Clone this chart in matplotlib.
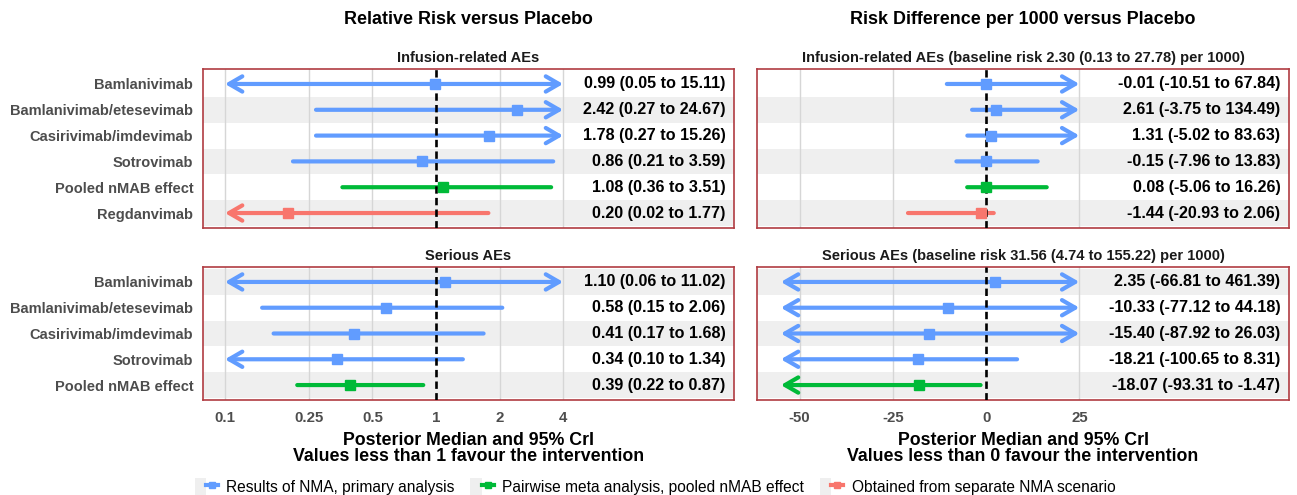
import matplotlib.pyplot as plt
from matplotlib.lines import Line2D
from matplotlib.patches import Rectangle
from matplotlib.legend_handler import HandlerTuple

plt.rcParams['font.family'] = ['Liberation Sans', 'DejaVu Sans']

# treatments per outcome (top to bottom)
treatments_inf = ['Bamlanivimab', 'Bamlanivimab/etesevimab', 'Casirivimab/imdevimab',
                  'Sotrovimab', 'Pooled nMAB effect', 'Regdanvimab']
treatments_ser = ['Bamlanivimab', 'Bamlanivimab/etesevimab', 'Casirivimab/imdevimab',
                  'Sotrovimab', 'Pooled nMAB effect']
source_inf = ['nma', 'nma', 'nma', 'nma', 'pooled', 'scenario']
source_ser = ['nma', 'nma', 'nma', 'nma', 'pooled']

# relative risk, infusion-related AEs
rr_inf_med = [0.99, 2.42, 1.78, 0.86, 1.08, 0.20]
rr_inf_lo = [0.05, 0.27, 0.27, 0.21, 0.36, 0.02]
rr_inf_hi = [15.11, 24.67, 15.26, 3.59, 3.51, 1.77]

# relative risk, serious AEs
rr_ser_med = [1.10, 0.58, 0.41, 0.34, 0.39]
rr_ser_lo = [0.06, 0.15, 0.17, 0.10, 0.22]
rr_ser_hi = [11.02, 2.06, 1.68, 1.34, 0.87]

# risk difference per 1000, infusion-related AEs
rd_inf_med = [-0.01, 2.61, 1.31, -0.15, 0.08, -1.44]
rd_inf_lo = [-10.51, -3.75, -5.02, -7.96, -5.06, -20.93]
rd_inf_hi = [67.84, 134.49, 83.63, 13.83, 16.26, 2.06]

# risk difference per 1000, serious AEs
rd_ser_med = [2.35, -10.33, -15.40, -18.21, -18.07]
rd_ser_lo = [-66.81, -77.12, -87.92, -100.65, -93.31]
rd_ser_hi = [461.39, 44.18, 26.03, 8.31, -1.47]

rr_ticks = [0.1, 0.25, 0.5, 1, 2, 4]
rr_ticklabels = ['0.1', '0.25', '0.5', '1', '2', '4']
rd_ticks = [-50, -25, 0, 25]
rd_ticklabels = ['-50', '-25', '0', '25']

colors = {'nma': '#619CFF', 'pooled': '#00BA38', 'scenario': '#F8766D'}
legend_labels = ['Results of NMA, primary analysis',
                 'Pairwise meta analysis, pooled nMAB effect',
                 'Obtained from separate NMA scenario']

W, H = 1297, 495
fig = plt.figure(figsize=(W / 100, H / 100), dpi=100)


def px_axes(x0, y0, x1, y1):
    return fig.add_axes([x0 / W, 1 - y1 / H, (x1 - x0) / W, (y1 - y0) / H])


def draw_panel(ax, labels, med, lo, hi, source, log, xlim, clip, ref, ticks,
               ticklabels, show_x, show_y, title):
    n = len(labels)
    ys = [n - i for i in range(n)]
    if log:
        ax.set_xscale('log')
    ax.set_xlim(*xlim)
    ax.set_ylim(0.42, n + 0.58)

    # alternating row shading and vertical grid
    for y in ys:
        if y % 2 == 1:
            ax.axhspan(y - 0.5, y + 0.5, color='#efefef', lw=0, zorder=0)
    for t in ticks:
        if t != ref:
            ax.axvline(t, color='#d6d6d6', lw=1.0, zorder=1)
    ax.axvline(ref, color='black', lw=1.9, ls=(0, (2.8, 1.6)), zorder=4)

    for y, m, l, h, s in zip(ys, med, lo, hi, source):
        c = colors[s]
        left_arrow = l <= clip[0]
        right_arrow = h >= clip[1]
        a = max(l, clip[0])
        b = min(h, clip[1])
        style = {(True, True): '<->', (True, False): '<-',
                 (False, True): '->', (False, False): '-'}[(left_arrow, right_arrow)]
        if style != '-':
            style += ', head_length=0.95, head_width=0.55'
        ax.annotate('', xy=(b, y), xytext=(a, y),
                    arrowprops=dict(arrowstyle=style, color=c, lw=3,
                                    shrinkA=0, shrinkB=0, mutation_scale=10),
                    zorder=3)
        ax.plot([m], [y], marker='s', ms=6.5, color=c, zorder=5)
        ax.text(0.984, y, f'{m:.2f} ({l:.2f} to {h:.2f})',
                transform=ax.get_yaxis_transform(), ha='right', va='center',
                fontsize=11.6, fontweight='bold', color='black')

    ax.set_xticks(ticks)
    ax.minorticks_off()
    if show_x:
        ax.set_xticklabels(ticklabels)
    else:
        ax.set_xticklabels([])
    ax.set_yticks(ys)
    if show_y:
        ax.set_yticklabels(labels)
    else:
        ax.set_yticklabels([])
    ax.tick_params(axis='y', length=0, labelsize=10.5, labelcolor='#4d4d4d', pad=7)
    ax.tick_params(axis='x', length=0, labelsize=10.8, labelcolor='#4d4d4d', pad=8)
    for lab in ax.get_xticklabels() + ax.get_yticklabels():
        lab.set_fontweight('bold')
    for sp in ax.spines.values():
        sp.set_color('#b03c42')
        sp.set_linewidth(1.2)
    ax.set_title(title, fontsize=10.5, fontweight='bold', color='#1a1a1a', pad=5)


rr_lim = (0.0787, 25.8)
rr_clip = (0.1, 4)
rd_lim = (-61.4, 81.2)
rd_clip = (-55, 25)

ax1 = px_axes(203, 69, 734, 228)
draw_panel(ax1, treatments_inf, rr_inf_med, rr_inf_lo, rr_inf_hi, source_inf, True,
           rr_lim, rr_clip, 1, rr_ticks, rr_ticklabels, False, True,
           'Infusion-related AEs')
ax2 = px_axes(203, 267, 734, 400)
draw_panel(ax2, treatments_ser, rr_ser_med, rr_ser_lo, rr_ser_hi, source_ser, True,
           rr_lim, rr_clip, 1, rr_ticks, rr_ticklabels, True, True,
           'Serious AEs')
ax3 = px_axes(757, 69, 1289, 228)
draw_panel(ax3, treatments_inf, rd_inf_med, rd_inf_lo, rd_inf_hi, source_inf, False,
           rd_lim, rd_clip, 0, rd_ticks, rd_ticklabels, False, False,
           'Infusion-related AEs (baseline risk 2.30 (0.13 to 27.78) per 1000)')
ax4 = px_axes(757, 267, 1289, 400)
draw_panel(ax4, treatments_ser, rd_ser_med, rd_ser_lo, rd_ser_hi, source_ser, False,
           rd_lim, rd_clip, 0, rd_ticks, rd_ticklabels, True, False,
           'Serious AEs (baseline risk 31.56 (4.74 to 155.22) per 1000)')

ax2.set_xlabel('Posterior Median and 95% CrI\nValues less than 1 favour the intervention',
               fontsize=12.8, fontweight='bold', labelpad=5, linespacing=0.95)
ax4.set_xlabel('Posterior Median and 95% CrI\nValues less than 0 favour the intervention',
               fontsize=12.8, fontweight='bold', labelpad=5, linespacing=0.95)

fig.text((203 + 734) / 2 / W, 1 - 20 / H, 'Relative Risk versus Placebo',
         ha='center', va='center', fontsize=12.9, fontweight='bold')
fig.text((757 + 1289) / 2 / W, 1 - 20 / H, 'Risk Difference per 1000 versus Placebo',
         ha='center', va='center', fontsize=12.9, fontweight='bold')

handles = []
for key in ['nma', 'pooled', 'scenario']:
    box = Rectangle((0, 0), 1, 1, fc='#efefef', ec='none')
    mark = Line2D([], [], color=colors[key], lw=3, marker='s', ms=5)
    handles.append((box, mark))
fig.legend(handles, legend_labels, handler_map={tuple: HandlerTuple(ndivide=None)},
           loc='center', bbox_to_anchor=(655 / W, 1 - 487 / H), ncol=3, frameon=False,
           fontsize=11.2, handlelength=1.5, handleheight=1.4, handletextpad=0.55,
           columnspacing=1.0, borderpad=0)

fig.savefig('out.png', dpi=100)
